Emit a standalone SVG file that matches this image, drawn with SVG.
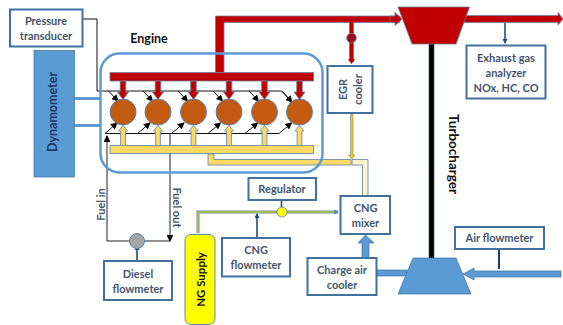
<svg xmlns="http://www.w3.org/2000/svg" width="563" height="325" viewBox="0 0 563 325">
<style>
text{font-family:Lato,"Liberation Sans",sans-serif;font-weight:700;text-anchor:middle;fill:#44546A;font-size:11px}
.box{fill:#fff;stroke:#41719C;stroke-width:2}
.red{fill:#C00000;stroke:#6F7FA0;stroke-width:.8}
.yel{fill:#FFD966;stroke:#6C8EAD;stroke-width:.9}
.pale{fill:#FFF2CC;stroke:#6C8EAD;stroke-width:.9}
.blue{fill:#5B9BD5;stroke:#41719C;stroke-width:.7}
.cyl{fill:#C55A11;stroke:#5B87B2;stroke-width:1}
.k{fill:none;stroke:#111;stroke-width:1}
.g{fill:none;stroke:#222;stroke-width:1}
.nv{fill:none;stroke:#1F4E79;stroke-width:1.6}
</style>
<defs>
<marker id="ah" markerWidth="7" markerHeight="7" refX="6" refY="3.500" orient="auto" markerUnits="userSpaceOnUse"><path d="M0 0L7 3.500L0 7Z" fill="#000"/></marker>
<marker id="an" markerWidth="5" markerHeight="5" refX="4" refY="2.500" orient="auto" markerUnits="userSpaceOnUse"><path d="M0 0L5 2.500L0 5Z" fill="#1F4E79"/></marker>
<marker id="ag" markerWidth="5" markerHeight="5" refX="4" refY="2.500" orient="auto" markerUnits="userSpaceOnUse"><path d="M0 0L5 2.500L0 5Z" fill="#5B87B2"/></marker>
<polygon id="rd" class="red" points="-2.800,0 2.800,0 2.800,11 5.500,11 0,18.500 -5.500,11 -2.800,11"/>
<polygon id="yu" class="yel" points="-2.400,20 2.400,20 2.400,5.500 4.500,5.500 0,0 -4.500,5.500 -2.400,5.500"/>
</defs>

<g id="connectors">
<path d="M74 98.500H101M74 125.500H101" fill="none" stroke="#5B9BD5" stroke-width="3"/>
<polygon class="red" points="215.500,72.500 215.500,16 400,16 400,22.500 224,22.500 224,72.500"/>
<polygon class="red" points="390,16 395,16 395,12.500 402,19 395,25.500 395,22.500 390,22.500" stroke="none"/>
<polygon class="red" points="463,15.500 558,15.500 558,12.500 563,19 558,25 558,22.500 463,22.500"/>
<path d="M351.500 22V62" stroke="#6F7FA0" stroke-width="5" fill="none"/>
<polygon fill="#C00000" points="350,22 353,22 353,59 355,59 351.500,64 348,59 350,59"/>
<path d="M505 23V43" class="nv" marker-end="url(#an)"/>
<rect x="429" y="44" width="5" height="226" fill="#000" stroke="#1F4E79" stroke-width=".6"/>
<polygon fill="#FFC000" stroke="#6C8EAD" stroke-width=".6" points="350.500,114 353,114 353,155 355,155 351.800,159 348.500,155 350.500,155"/>
<polygon class="yel" points="208,154 214,154 214,159.500 351,159.500 351,165 208,165"/>
<polygon class="pale" points="352,159.500 368,159.500 368,196 362.500,196 362.500,165 352,165"/>
<path d="M198 233V212H282" fill="none" stroke="#6C8EAD" stroke-width="3"/>
<path d="M198 233V212H282" fill="none" stroke="#B5C934" stroke-width="1.400"/>
<path d="M282 212H338" fill="none" stroke="#6C8EAD" stroke-width="3"/>
<path d="M282 212H338" fill="none" stroke="#B5C934" stroke-width="1.400" marker-end="url(#ag)"/>
<path d="M257 238V214" class="nv" marker-end="url(#an)"/>
<path d="M281.500 200V208" class="nv"/>
<polygon class="blue" points="362,258 362,243 358,243 365.500,235 374,243 369,243 369,258"/>
<rect class="blue" x="376" y="270" width="31" height="6"/>
<polygon class="blue" points="561,271 561,277 474,277 474,280 463,274 474,268 474,271"/>
<path d="M499 249V269" stroke="#1F3864" stroke-width="2" fill="none"/>
<path d="M137 261V246" class="nv" marker-end="url(#an)"/>
<path class="g" d="M130 241H107V136" marker-end="url(#ah)"/>
<path class="g" d="M170 133.500V241" marker-end="url(#ah)"/>
<path class="g" d="M144 241H170"/>
<path class="k" d="M82 19H97V91H281.500L292 102"/>
<path class="k" d="M108.500 91L118 101" marker-end="url(#ah)"/>
<path class="k" d="M143 91L152.500 101" marker-end="url(#ah)"/>
<path class="k" d="M178 91L187.500 101" marker-end="url(#ah)"/>
<path class="k" d="M213 91L222.500 101" marker-end="url(#ah)"/>
<path class="k" d="M249 91L258.500 101" marker-end="url(#ah)"/>
<path class="k" d="M282 91L292 102" marker-end="url(#ah)"/>
<path class="k" d="M105 133.500H279L291.500 123" marker-end="url(#ah)"/>
<path class="k" d="M105 133.500L117 123" marker-end="url(#ah)"/>
<path class="k" d="M137.500 133.500L150 123" marker-end="url(#ah)"/>
<path class="k" d="M171.500 133.500L184 123" marker-end="url(#ah)"/>
<path class="k" d="M208 133.500L220.500 123" marker-end="url(#ah)"/>
<path class="k" d="M245 133.500L257.500 123" marker-end="url(#ah)"/>
</g>

<g id="engine">
<rect x="100.500" y="53.500" width="222" height="119" rx="19" fill="none" stroke="#5B9BD5" stroke-width="2.500"/>
<text x="149" y="43" style="fill:#111;font-size:12.500px">Engine</text>
</g>
<g id="exhaust-manifold"><rect class="red" x="110" y="72.500" width="203.500" height="8.500"/>
<use href="#rd" x="123" y="81"/><use href="#rd" x="158" y="81"/><use href="#rd" x="193.500" y="81"/><use href="#rd" x="229" y="81"/><use href="#rd" x="264.500" y="81"/><use href="#rd" x="299.500" y="81"/></g>
<g id="fuel-rail"><rect class="yel" x="110" y="145.500" width="203.500" height="8"/>
<use href="#yu" x="123" y="125.500"/><use href="#yu" x="158" y="125.500"/><use href="#yu" x="193.500" y="125.500"/><use href="#yu" x="229" y="125.500"/><use href="#yu" x="264.500" y="125.500"/><use href="#yu" x="299.500" y="125.500"/></g>
<g id="cylinders">
<circle class="cyl" cx="123" cy="112" r="13"/><circle class="cyl" cx="158" cy="112" r="13"/><circle class="cyl" cx="193.500" cy="112" r="13"/><circle class="cyl" cx="229" cy="112" r="13"/><circle class="cyl" cx="264.500" cy="112" r="13"/><circle class="cyl" cx="299.500" cy="112" r="13"/>
</g>

<g id="pressure-transducer"><rect class="box" x="10" y="9.500" width="72.500" height="37"/>
<text x="46" y="25">Pressure</text><text x="46" y="40">transducer</text></g>
<g id="dynamometer"><rect class="blue" x="34" y="50.500" width="40.500" height="126.500"/>
<text transform="translate(57 112) rotate(-90)" style="fill:#1F3864;font-size:12.500px">Dynamometer</text></g>
<g id="egr-valve"><circle cx="351.500" cy="38" r="4.800" fill="#C00000" stroke="#5B87B2" stroke-width=".8"/><path d="M348.300 34.800L354.700 41.200M354.700 34.800L348.300 41.200" stroke="#1F3864" stroke-width="1"/></g>
<g id="egr-cooler"><rect class="box" x="327.500" y="66" width="45" height="47"/>
<text transform="translate(347 89.500) rotate(-90)">EGR</text><text transform="translate(362 89.500) rotate(-90)">cooler</text></g>
<g id="turbine"><polygon class="red" points="398,7 469.500,7 456,44 412,44"/></g>
<g id="turbocharger-label"><text transform="translate(448.500 154) rotate(90)" style="fill:#111;font-size:13.500px">Turbocharger</text></g>
<g id="exhaust-analyzer"><rect class="box" x="466.500" y="45.500" width="79" height="53"/>
<text x="506" y="62">Exhaust gas</text><text x="506" y="77">analyzer</text><text x="506" y="92">NOx, HC, CO</text></g>
<g id="cng-mixer"><rect class="box" x="340.500" y="196" width="49.500" height="38"/>
<text x="365.500" y="212">CNG</text><text x="365.500" y="227">mixer</text></g>
<g id="charge-air-cooler"><rect class="box" x="307.500" y="258" width="69" height="37"/>
<text x="342" y="274">Charge air</text><text x="342" y="289">cooler</text></g>
<g id="compressor"><polygon class="blue" points="413,258 456,258 471,294 398,294"/></g>
<g id="air-flowmeter"><rect class="box" x="455" y="227" width="89" height="22"/>
<text x="499.500" y="242">Air flowmeter</text></g>
<g id="regulator"><rect class="box" x="248.500" y="178" width="67.500" height="22"/>
<text x="282" y="193">Regulator</text></g>
<g id="regulator-valve"><circle cx="282" cy="212" r="5" fill="#FFFF00" stroke="#5B87B2" stroke-width=".8"/></g>
<g id="cng-flowmeter"><rect class="box" x="222" y="238" width="68" height="38.500"/>
<text x="256" y="254">CNG</text><text x="256" y="269">flowmeter</text></g>
<g id="ng-supply"><rect x="185" y="234.500" width="30" height="90" rx="6" fill="#FFFF00" stroke="#5B87B2" stroke-width="1"/>
<text transform="translate(205 279.500) rotate(-90)" style="fill:#111;font-size:11.500px">NG Supply</text></g>
<g id="diesel-flowmeter"><rect class="box" x="104" y="261" width="68" height="39"/>
<text x="138" y="278">Diesel</text><text x="138" y="293">flowmeter</text></g>
<g id="diesel-pump"><circle cx="137" cy="241" r="7.500" fill="#A5A5A5" stroke="#5B87B2" stroke-width="1"/></g>
<g id="fuel-labels"><text transform="translate(105 204.500) rotate(-90)">Fuel in</text><text transform="translate(173 207.500) rotate(90)">Fuel out</text></g>
</svg>
